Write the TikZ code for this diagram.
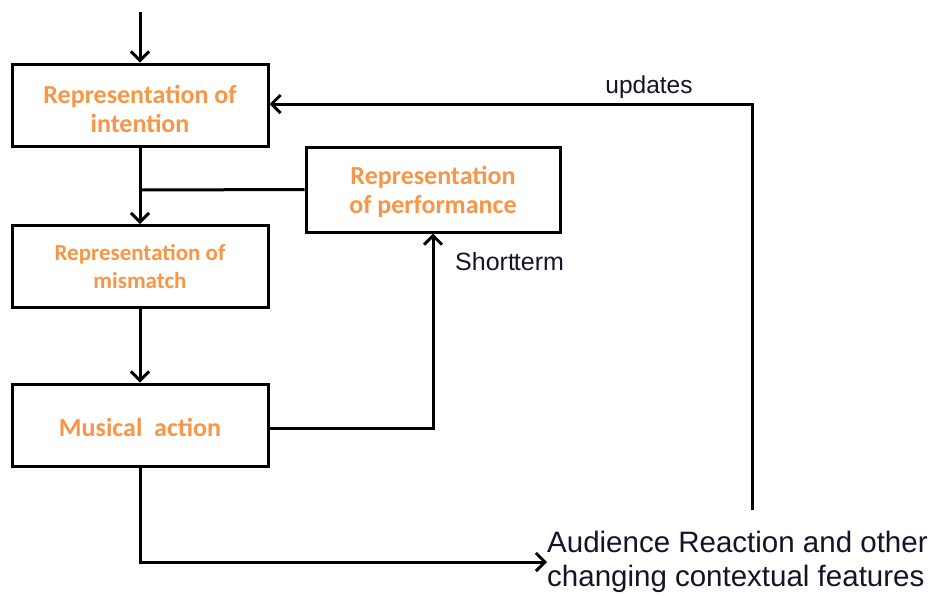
\documentclass[tikz,border=0pt]{standalone}
\usepackage{fontspec}
\setmainfont{Liberation Sans}
\newfontfamily\boxfont{Carlito}
\usetikzlibrary{arrows.meta}
\definecolor{boxorange}{RGB}{247,150,70}
\definecolor{inkdark}{RGB}{20,20,40}
% lowers box text without changing its nominal size
\newcommand{\lowered}[2]{\raisebox{-#1}[\height][\depth]{#2}}
\tikzset{
  stagebox/.style={draw=black, line width=3pt, minimum width=256pt, minimum height=82pt,
    align=center, inner sep=0pt, text=boxorange, font=\boxfont\bfseries\fontsize{26}{30}\selectfont},
  flow/.style={line width=3pt, -{Straight Barb[length=9pt,width=18pt,line width=3pt]}},
  plain/.style={line width=3pt},
  tag/.style={text=inkdark, inner sep=0pt}
}
\begin{document}
\begin{tikzpicture}[x=1pt,y=-1pt]
\useasboundingbox (0,0) rectangle (935,595);
\node[stagebox] (intent) at (140,105) {\lowered{4pt}{\shortstack{Representation of\\[4pt]intention}}};
\node[stagebox, font=\boxfont\bfseries\fontsize{23}{28}\selectfont] (mismatch) at (140,266.5) {Representation of\\mismatch};
\node[stagebox] (action) at (140,425) {\lowered{2pt}{Musical\ \ action}};
\node[stagebox, minimum width=254pt, minimum height=85pt] (perf) at (433,189.5) {\lowered{2pt}{\shortstack{Representation\\[4pt]of performance}}};
\coordinate (top) at (140,12);
\coordinate (join) at (140,190);
\coordinate (upd) at (752,510);
\node[tag, anchor=west, align=left, font=\fontsize{29.5}{34}\selectfont] (aud) at (547,562)
  {Audience Reaction and other\\changing contextual features};
\node[tag, font=\fontsize{24.5}{28}\selectfont] (updlbl) at (649,87) {updates};
\node[tag, anchor=west, font=\fontsize{25}{28}\selectfont] (stlbl) at (455,262) {Short\kern-1pt term};
\draw[flow] (top) -- (intent.north);
\draw[flow] (intent.south) -- (mismatch.north);
\draw[plain] (perf.west) -- (join);
\draw[flow] (mismatch.south) -- (action.north);
\draw[flow] (action.east |- 0,428) -| (perf.south);
\draw[flow] (action.south) |- (aud.west);
\draw[flow] (upd) |- (intent.east |- 0,104);
\end{tikzpicture}
\end{document}
